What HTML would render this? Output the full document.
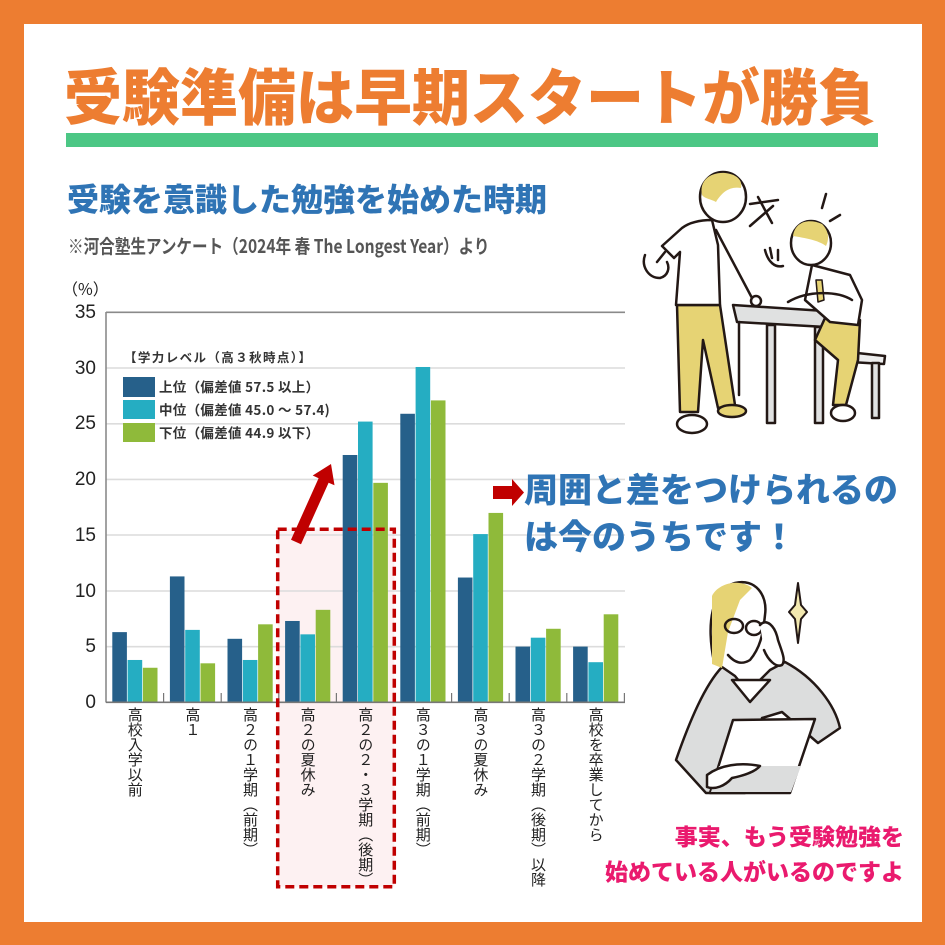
<!DOCTYPE html>
<html><head><meta charset="utf-8">
<style>
html,body{margin:0;padding:0;}
body{width:945px;height:945px;background:#ED7D31;position:relative;overflow:hidden;font-family:"Liberation Sans","Noto Sans CJK JP",sans-serif;}
#box{position:absolute;left:24px;top:24px;width:898px;height:898px;background:#fff;}
.t{position:absolute;white-space:nowrap;line-height:1;font-family:"Noto Sans CJK JP","Liberation Sans",sans-serif;}
.yl{position:absolute;width:40px;text-align:right;font-family:"Liberation Sans",sans-serif;font-size:19px;line-height:20px;color:#222;}
.xl{position:absolute;top:707px;writing-mode:vertical-rl;font-family:"Noto Sans CJK JP",sans-serif;font-size:15px;line-height:16px;width:16px;color:#222;white-space:nowrap;}
svg{position:absolute;left:0;top:0;}
</style></head>
<body>
<div id="box"></div>
<svg width="945" height="945" viewBox="0 0 945 945">
  <rect x="66" y="133" width="812" height="14" fill="#4CC785"/>
  <rect x="277.7" y="529.3" width="116.6" height="357.4" fill="#FDF1F2"/>
  <g stroke="#DCDCDC" stroke-width="1.6">
    <line x1="106" y1="368" x2="625" y2="368"/>
    <line x1="106" y1="423.8" x2="625" y2="423.8"/>
    <line x1="106" y1="479.4" x2="625" y2="479.4"/>
    <line x1="106" y1="535" x2="625" y2="535"/>
    <line x1="106" y1="591" x2="625" y2="591"/>
    <line x1="106" y1="646.7" x2="625" y2="646.7"/>
  </g>
  <line x1="106" y1="312.3" x2="625" y2="312.3" stroke="#8A8A8A" stroke-width="1.6"/>
  <line x1="106" y1="312" x2="106" y2="702.5" stroke="#8A8A8A" stroke-width="1.6"/>
  <g transform="translate(0,702.3) scale(1,-11.14)">
    <g fill="#26608A">
      <rect x="112.3" y="0" width="14.6" height="6.3"/>
      <rect x="169.9" y="0" width="14.6" height="11.3"/>
      <rect x="227.5" y="0" width="14.6" height="5.7"/>
      <rect x="285.1" y="0" width="14.6" height="7.3"/>
      <rect x="342.7" y="0" width="14.6" height="22.2"/>
      <rect x="400.3" y="0" width="14.6" height="25.9"/>
      <rect x="457.9" y="0" width="14.6" height="11.2"/>
      <rect x="515.5" y="0" width="14.6" height="5.0"/>
      <rect x="573.1" y="0" width="14.6" height="5.0"/>
    </g>
    <g fill="#25ADC2">
      <rect x="127.6" y="0" width="14.6" height="3.8"/>
      <rect x="185.2" y="0" width="14.6" height="6.5"/>
      <rect x="242.8" y="0" width="14.6" height="3.8"/>
      <rect x="300.4" y="0" width="14.6" height="6.1"/>
      <rect x="358.0" y="0" width="14.6" height="25.2"/>
      <rect x="415.6" y="0" width="14.6" height="30.1"/>
      <rect x="473.2" y="0" width="14.6" height="15.1"/>
      <rect x="530.8" y="0" width="14.6" height="5.8"/>
      <rect x="588.4" y="0" width="14.6" height="3.6"/>
    </g>
    <g fill="#8FBA3A">
      <rect x="142.9" y="0" width="14.6" height="3.1"/>
      <rect x="200.5" y="0" width="14.6" height="3.5"/>
      <rect x="258.1" y="0" width="14.6" height="7.0"/>
      <rect x="315.7" y="0" width="14.6" height="8.3"/>
      <rect x="373.3" y="0" width="14.6" height="19.7"/>
      <rect x="430.9" y="0" width="14.6" height="27.1"/>
      <rect x="488.5" y="0" width="14.6" height="17.0"/>
      <rect x="546.1" y="0" width="14.6" height="6.6"/>
      <rect x="603.7" y="0" width="14.6" height="7.9"/>
    </g>
  </g>
  <line x1="106" y1="702.3" x2="625" y2="702.3" stroke="#777" stroke-width="1.6"/>
  <g stroke="#777" stroke-width="1.2">
    <line x1="163.6" y1="693" x2="163.6" y2="702"/>
    <line x1="221.2" y1="693" x2="221.2" y2="702"/>
    <line x1="278.8" y1="693" x2="278.8" y2="702"/>
    <line x1="336.4" y1="693" x2="336.4" y2="702"/>
    <line x1="394" y1="693" x2="394" y2="702"/>
    <line x1="451.6" y1="693" x2="451.6" y2="702"/>
    <line x1="509.2" y1="693" x2="509.2" y2="702"/>
    <line x1="566.8" y1="693" x2="566.8" y2="702"/>
    <line x1="624.4" y1="693" x2="624.4" y2="702"/>
  </g>
  <rect x="123" y="377" width="32" height="20" fill="#26608A"/>
  <rect x="123" y="400" width="32" height="19" fill="#25ADC2"/>
  <rect x="123" y="423" width="32" height="19" fill="#8FBA3A"/>
  <rect x="277.7" y="529.3" width="116.6" height="357.4" fill="none" stroke="#C00000" stroke-width="3.5" stroke-dasharray="9 5"/>
  <polygon points="291,539.8 318.6,478.2 312.7,475.5 331,464 334.5,485.3 328.6,482.7 301,544.2" fill="#C00000"/>
  <polygon points="493,486 512,486 512,479 524,492.5 512,506 512,499 493,499" fill="#C00000"/>

  <g stroke="#231815" stroke-width="2.5" stroke-linecap="round" stroke-linejoin="round">
    <polygon points="733,305 825,311 826,327 737,322" fill="#E0E1E1"/>
    <line x1="739" y1="322" x2="739" y2="395"/>
    <rect x="767" y="325" width="8" height="98" fill="#E0E1E1"/>
    <rect x="815" y="327" width="8" height="96" fill="#E0E1E1"/>
    <line x1="836" y1="318" x2="850" y2="352" stroke="#999"/>
    <polygon points="848,352 885,356 884,364 850,362" fill="#EEE"/>
    <rect x="872" y="363" width="7" height="55" fill="#E0E1E1"/>
    <polygon points="825,318 860,320 858,360 846,405 833,405 838,360 815,340" fill="#E6D374"/>
    <ellipse cx="843" cy="413" rx="12" ry="8" fill="#fff"/>
    <path d="M812,265 L850,275 L862,300 L858,325 L830,322 L805,300 Z" fill="#fff"/>
    <polygon points="816,280 822,280 824,300 818,302" fill="#E6D374" stroke-width="1.5"/>
    <path d="M788,302 C808,290 838,291 852,300" fill="none"/>
    <ellipse cx="811" cy="243" rx="20" ry="22" fill="#fff"/>
    <path d="M793,236 C795,222 808,218 822,224 C828,230 830,238 826,246 C818,240 805,238 793,236Z" fill="#E6D374" stroke="none"/>
    <path d="M765,250 C768,262 775,268 783,266 M770,248 L772,258 M778,250 L778,260" fill="none"/>
    <line x1="826" y1="194" x2="822" y2="208"/>
    <line x1="840" y1="215" x2="830" y2="221"/>
    <path d="M677,305 L720,305 L735,405 L718,408 L703,340 L698,412 L680,412 Z" fill="#E6D374"/>
    <ellipse cx="692" cy="424" rx="15" ry="9" fill="#fff"/>
    <ellipse cx="732" cy="411" rx="14" ry="6" fill="#E6D374"/>
    <path d="M712,220 C700,220 690,222 682,228 L662,246 L674,258 L680,252 L676,305 L720,305 L718,245 Z" fill="#fff"/>
    <line x1="716" y1="230" x2="752" y2="298"/>
    <circle cx="756" cy="301" r="5" fill="#fff"/>
    <path d="M665,252 L657,262 M645,255 C641,266 648,278 660,278 C668,276 670,268 667,262" fill="none"/>
    <ellipse cx="723" cy="197" rx="23" ry="25" fill="#fff"/>
    <path d="M702,195 C699,180 711,172 725,173 C736,174 743,180 741,188 C730,186 722,192 716,202 C711,199 705,199 702,195Z" fill="#E6D374" stroke="none"/>
    <path d="M750,204 L778,200 M758,197 L772,223 M773,206 L750,226" fill="none"/>
  </g>

  <g stroke="#231815" stroke-width="2.5" stroke-linecap="round" stroke-linejoin="round">
    <path d="M722,667 C705,685 690,720 676,760 L706,793 L745,793 L762,718 L782,712 L818,743 L840,728 C835,705 815,678 785,662 L770,670 L748,692 L735,676 Z" fill="#DCDDDD"/>
    <polygon points="732,680 770,680 750,702" fill="#fff"/>
    <polygon points="733,720 815,719 790,793 710,793" fill="#fff"/>
    <polygon points="719,766 801,766 791,792 711,792" fill="#DCDDDD" stroke="none"/>
    <path d="M707,775 C720,765 740,762 760,766 C755,772 742,776 732,778 C725,786 715,790 707,787 Z" fill="#fff"/>
    <path d="M714,662 C706,622 712,590 735,583 C755,578 768,595 765,615 C763,635 760,648 750,660 C742,665 735,663 728,655" fill="#fff"/>
    <path d="M712,596 C718,583 740,578 752,588 L740,600 L728,632 L722,668 L712,664 Z" fill="#E6D374" stroke="none"/>
    <ellipse cx="734" cy="626" rx="9" ry="7" fill="none"/>
    <ellipse cx="754" cy="628" rx="8" ry="7" fill="none"/>
    <path d="M760,625 C766,618 775,625 778,640 C782,652 786,660 782,665 C776,668 768,660 764,650" fill="#fff"/>
    <path d="M798,583 L801,605 L807,612 L801,619 L798,643 L795,619 L789,612 L795,605 Z" fill="#F3E9B0" stroke-width="2"/>
  </g>
</svg>

<div class="t" style="left:64px;top:63px;font-size:58px;letter-spacing:0px;color:#ED7D31;font-weight:900;transform:scaleY(1.05);transform-origin:0 0;">受験準備は早期スタートが勝負</div>
<div class="t" style="left:67px;top:182px;font-size:32px;color:#2F74B5;font-weight:900;">受験を意識した勉強を始めた時期</div>
<div class="t" style="left:68px;top:236px;font-size:19px;color:#555;font-weight:700;transform:scaleX(0.82);transform-origin:0 0;">※河合塾生アンケート（2024年 春 The Longest Year）より</div>
<div class="t" style="left:62px;top:280px;font-size:16px;color:#222;">（%）</div>

<div class="yl" style="left:56px;top:302.8px;">35</div>
<div class="yl" style="left:56px;top:358.5px;">30</div>
<div class="yl" style="left:56px;top:414.3px;">25</div>
<div class="yl" style="left:56px;top:469.9px;">20</div>
<div class="yl" style="left:56px;top:525.5px;">15</div>
<div class="yl" style="left:56px;top:581.5px;">10</div>
<div class="yl" style="left:56px;top:637.2px;">5</div>
<div class="yl" style="left:56px;top:692.8px;">0</div>

<div class="t" style="left:124px;top:351px;font-size:12.5px;letter-spacing:1.4px;color:#333;font-weight:700;">【学力レベル（高３秋時点）】</div>
<div class="t" style="left:159px;top:380px;font-size:13.5px;letter-spacing:0.3px;color:#333;font-weight:700;">上位（偏差値 57.5 以上）</div>
<div class="t" style="left:159px;top:403px;font-size:13.5px;letter-spacing:0.3px;color:#333;font-weight:700;">中位（偏差値 45.0 〜 57.4)</div>
<div class="t" style="left:159px;top:426px;font-size:13.5px;letter-spacing:0.3px;color:#333;font-weight:700;">下位（偏差値 44.9 以下）</div>

<div class="xl" style="left:126.8px;">高校入学以前</div>
<div class="xl" style="left:184.4px;">高１</div>
<div class="xl" style="left:242px;">高２の１学期（前期）</div>
<div class="xl" style="left:299.6px;">高２の夏休み</div>
<div class="xl" style="left:357.2px;">高２の２・３学期（後期）</div>
<div class="xl" style="left:414.8px;">高３の１学期（前期）</div>
<div class="xl" style="left:472.4px;">高３の夏休み</div>
<div class="xl" style="left:530px;">高３の２学期（後期）以降</div>
<div class="xl" style="left:587.6px;">高校を卒業してから</div>

<div class="t" style="left:524px;top:471px;font-size:34px;letter-spacing:0px;color:#2F74B5;font-weight:900;">周囲と差をつけられるの</div>
<div class="t" style="left:524px;top:518px;font-size:34px;letter-spacing:0px;color:#2F74B5;font-weight:900;">は今のうちです！</div>

<div class="t" style="right:41px;top:824px;font-size:23px;color:#EA1A6E;font-weight:900;text-align:right;">事実、もう受験勉強を</div>
<div class="t" style="right:41px;top:859px;font-size:23px;color:#EA1A6E;font-weight:900;text-align:right;">始めている人がいるのですよ</div>
</body></html>
